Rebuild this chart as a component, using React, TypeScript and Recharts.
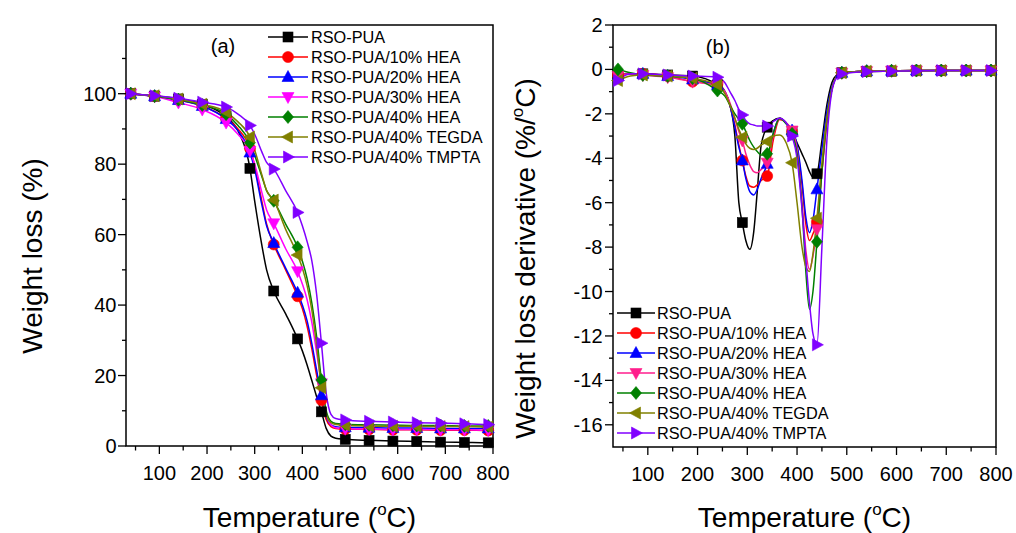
import React from 'react';
import { LineChart, Line, XAxis, YAxis, ReferenceArea, Legend, Label } from 'recharts';

const FONT = "Arial, 'Liberation Sans', Helvetica, sans-serif";

const SERIES_NAMES = [
  'RSO-PUA',
  'RSO-PUA/10% HEA',
  'RSO-PUA/20% HEA',
  'RSO-PUA/30% HEA',
  'RSO-PUA/40% HEA',
  'RSO-PUA/40% TEGDA',
  'RSO-PUA/40% TMPTA',
];
const SHAPES = ['square', 'circle', 'up', 'down', 'diamond', 'left', 'right'];
const COLORS_A = ['#000000', '#FF0000', '#0000FF', '#FF00FF', '#008000', '#808000', '#8000FF'];
const COLORS_B = ['#000000', '#FF0000', '#0000FF', '#FF1E8C', '#008000', '#808000', '#8000FF'];

const MARKER_T = [40, 90, 140, 190, 240, 290, 340, 390, 440, 490, 540, 590, 640, 690, 740, 790];
const X_TICKS = [50, 100, 150, 200, 250, 300, 350, 400, 450, 500, 550, 600, 650, 700, 750, 800];
const TGA_Y_TICKS = [0, 10, 20, 30, 40, 50, 60, 70, 80, 90, 100, 110];
const DTG_Y_TICKS = [-16, -15, -14, -13, -12, -11, -10, -9, -8, -7, -6, -5, -4, -3, -2, -1, 0, 1, 2];

// (a) weight loss (%)
const TGA_T = [40, 90, 140, 190, 240, 265, 290, 300, 315, 325, 340, 365, 390, 400, 410, 420, 430, 440, 450, 460, 470, 490, 540, 590, 640, 690, 740, 790, 800];
const TGA_PUA = [100, 99.3, 98.5, 97, 93.5, 89.5, 78.8, 69.5, 57, 50, 44, 37.5, 30.4, 27, 23, 18.5, 14, 9.7, 5.0, 2.8, 2.2, 1.9, 1.6, 1.4, 1.3, 1.1, 1.0, 0.9, 0.9];
const TGA_HEA10 = [100, 99.3, 98.2, 96.5, 93, 90, 84.5, 79.5, 69.5, 63, 57.2, 50, 42.5, 39, 34, 27.5, 20, 13, 7.5, 5.5, 5.0, 4.8, 4.7, 4.6, 4.6, 4.5, 4.5, 4.4, 4.4];
const TGA_HEA20 = [100, 99.3, 98.2, 96.5, 92.8, 89.5, 83.3, 78.5, 68.5, 62.5, 57.6, 50.5, 43.5, 40, 35.5, 29, 21.5, 14.4, 8.5, 6.0, 5.5, 5.3, 5.2, 5.1, 5.1, 5.0, 5.0, 5.0, 5.0];
const TGA_HEA30 = [100, 99.2, 97.5, 95.5, 91.8, 88.5, 83.8, 80, 72, 67, 63.2, 56, 49.6, 46, 41.5, 35, 26.5, 17.8, 9.5, 6.0, 5.2, 4.9, 4.8, 4.7, 4.7, 4.6, 4.6, 4.5, 4.5];
const TGA_HEA40 = [100, 99.3, 98.3, 96.8, 94.2, 91, 86.1, 82.5, 76.5, 72.5, 69.6, 63, 56.4, 52.5, 47.5, 40.5, 31, 18.7, 10, 7.0, 6.4, 6.2, 6.0, 5.9, 5.8, 5.8, 5.7, 5.7, 5.7];
const TGA_TEGDA = [100, 99.4, 98.5, 97, 94.8, 92, 87.7, 84, 77, 72.5, 69.8, 61.5, 54.2, 50.5, 45.5, 38.5, 28.5, 16.5, 9.0, 6.6, 6.1, 5.9, 5.7, 5.6, 5.6, 5.5, 5.5, 5.4, 5.4];
const TGA_TMPTA = [100, 99.4, 98.7, 97.6, 96.2, 94.2, 91, 88.5, 83.5, 80.5, 78.6, 72.5, 66.3, 62.5, 58, 52.5, 43, 29.2, 15, 9.0, 7.8, 7.4, 7.0, 6.8, 6.6, 6.5, 6.3, 6.1, 6.1];

// (b) weight loss derivative (%/°C)
const DTG_T = [40, 65, 90, 140, 190, 240, 255, 265, 275, 283, 290, 297, 305, 313, 320, 328, 340, 352, 365, 378, 390, 400, 410, 418, 425, 432, 440, 450, 460, 470, 480, 490, 540, 590, 640, 690, 740, 790, 800];
const DTG_PUA = [-0.3, -0.2, -0.2, -0.25, -0.3, -0.7, -1.0, -1.6, -3.0, -6.0, -6.9, -7.7, -8.1, -7.3, -5.5, -3.4, -2.6, -2.3, -2.2, -2.4, -2.8, -3.3, -3.8, -4.2, -4.6, -4.85, -4.7, -3.2, -1.6, -0.6, -0.25, -0.15, -0.1, -0.08, -0.06, -0.05, -0.05, -0.05, -0.05];
const DTG_HEA10 = [-0.25, -0.2, -0.2, -0.3, -0.55, -0.65, -1.0, -1.6, -2.5, -3.4, -4.1, -4.8, -5.25, -5.3, -5.2, -5.0, -4.8, -3.2, -2.25, -2.4, -2.8, -3.5, -5.2, -7.0, -7.7, -7.4, -6.86, -4.6, -2.4, -0.9, -0.3, -0.15, -0.08, -0.06, -0.05, -0.05, -0.05, -0.05, -0.05];
const DTG_HEA20 = [-0.3, -0.2, -0.2, -0.3, -0.45, -0.7, -1.0, -1.6, -2.6, -3.5, -4.1, -4.9, -5.5, -5.65, -5.4, -4.9, -4.25, -2.9, -2.2, -2.4, -2.75, -3.4, -5.0, -6.7, -7.35, -6.8, -5.4, -3.6, -1.9, -0.8, -0.3, -0.15, -0.08, -0.06, -0.05, -0.05, -0.05, -0.05, -0.05];
const DTG_HEA30 = [-0.3, -0.2, -0.25, -0.35, -0.55, -0.75, -1.0, -1.5, -2.2, -2.8, -3.2, -3.8, -4.3, -4.6, -4.65, -4.5, -4.2, -3.0, -2.2, -2.4, -2.75, -3.6, -6.0, -8.2, -9.0, -8.4, -7.2, -4.6, -2.3, -0.9, -0.3, -0.15, -0.08, -0.06, -0.05, -0.05, -0.05, -0.05, -0.05];
const DTG_HEA40 = [0.0, -0.15, -0.25, -0.3, -0.4, -0.95, -1.2, -1.6, -2.0, -2.25, -2.45, -2.8, -3.2, -3.5, -3.7, -3.85, -3.8, -2.9, -2.2, -2.45, -2.9, -3.8, -6.2, -9.2, -10.8, -10.0, -7.76, -4.6, -2.3, -0.9, -0.3, -0.15, -0.08, -0.06, -0.05, -0.05, -0.05, -0.05, -0.05];
const DTG_TEGDA = [-0.5, -0.3, -0.25, -0.3, -0.4, -0.7, -1.1, -1.6, -2.2, -2.7, -3.05, -3.35, -3.55, -3.6, -3.55, -3.4, -3.25, -3.0, -2.95, -3.3, -4.2, -6.0, -8.0, -8.9, -9.1, -8.3, -6.7, -4.2, -2.2, -0.9, -0.3, -0.15, -0.08, -0.06, -0.05, -0.05, -0.05, -0.05, -0.05];
const DTG_TMPTA = [-0.5, -0.2, -0.2, -0.25, -0.3, -0.35, -0.6, -1.0, -1.4, -1.8, -2.05, -2.3, -2.45, -2.5, -2.55, -2.55, -2.55, -2.35, -2.2, -2.4, -3.0, -4.0, -6.3, -8.6, -10.5, -11.9, -12.4, -8.0, -3.2, -1.0, -0.35, -0.2, -0.1, -0.08, -0.06, -0.05, -0.05, -0.05, -0.05];

const TGA_SERIES = [TGA_PUA, TGA_HEA10, TGA_HEA20, TGA_HEA30, TGA_HEA40, TGA_TEGDA, TGA_TMPTA];
const DTG_SERIES = [DTG_PUA, DTG_HEA10, DTG_HEA20, DTG_HEA30, DTG_HEA40, DTG_TEGDA, DTG_TMPTA];

const buildRows = (temps: number[], series: number[][]) =>
  temps.map((t, i) => {
    const row: Record<string, number> = { T: t };
    series.forEach((s, k) => {
      row['s' + k] = s[i];
    });
    return row;
  });

const tgaData = buildRows(TGA_T, TGA_SERIES);
const dtgData = buildRows(DTG_T, DTG_SERIES);
const MARKER_SET = new Set(MARKER_T);

function MarkerShape({ cx, cy, shape, color }: { cx: number; cy: number; shape: string; color: string }) {
  const common = { fill: color, stroke: color, strokeWidth: 0.6 };
  switch (shape) {
    case 'square':
      return <rect x={cx - 5} y={cy - 5} width={10} height={10} {...common} />;
    case 'circle':
      return <circle cx={cx} cy={cy} r={5.5} {...common} />;
    case 'up':
      return <polygon points={`${cx},${cy - 6.5} ${cx + 6},${cy + 4.5} ${cx - 6},${cy + 4.5}`} {...common} />;
    case 'down':
      return <polygon points={`${cx},${cy + 6.5} ${cx + 6},${cy - 4.5} ${cx - 6},${cy - 4.5}`} {...common} />;
    case 'diamond':
      return <polygon points={`${cx},${cy - 6.5} ${cx + 5.5},${cy} ${cx},${cy + 6.5} ${cx - 5.5},${cy}`} {...common} />;
    case 'left':
      return <polygon points={`${cx - 6.5},${cy} ${cx + 4.5},${cy - 6} ${cx + 4.5},${cy + 6}`} {...common} />;
    default:
      return <polygon points={`${cx + 6.5},${cy} ${cx - 4.5},${cy - 6} ${cx - 4.5},${cy + 6}`} {...common} />;
  }
}

const makeDot = (shape: string, color: string) => (props: any) => {
  const { cx, cy, payload, index } = props;
  if (cx == null || cy == null || !payload || !MARKER_SET.has(payload.T)) {
    return <g key={'n' + index} />;
  }
  return (
    <g key={'m' + index}>
      <MarkerShape cx={cx} cy={cy} shape={shape} color={color} />
    </g>
  );
};

const XTick = (props: any) => {
  const { x, y, payload } = props;
  const v = payload.value;
  const major = v % 100 === 0;
  return (
    <g>
      <line x1={x} x2={x} y1={y} y2={y + (major ? 8 : 4.5)} stroke="#000" strokeWidth={1.3} />
      {major && (
        <text x={x} y={y + 33.5} textAnchor="middle" fontSize={20} fontFamily={FONT} fill="#000">
          {v}
        </text>
      )}
    </g>
  );
};

const makeYTick = (majorStep: number, labelDx: number) => (props: any) => {
  const { x, y, payload } = props;
  const v = payload.value;
  const major = Math.abs(Math.round(v / majorStep) * majorStep - v) < 1e-6;
  return (
    <g>
      <line x1={x} x2={x - (major ? 8 : 4)} y1={y} y2={y} stroke="#000" strokeWidth={1.3} />
      {major && (
        <text x={x - labelDx} y={y + 7} textAnchor="end" fontSize={20} fontFamily={FONT} fill="#000">
          {v}
        </text>
      )}
    </g>
  );
};

const TempTitle = ({ cx }: { cx: number }) => (
  <text x={cx} y={527} textAnchor="middle" fontSize={28} fontFamily={FONT} fill="#000">
    Temperature (
    <tspan dy={-12} fontSize={17}>o</tspan>
    <tspan dy={12}>C)</tspan>
  </text>
);

const makeLegend = (colors: string[], lineLen: number, textX: number) => () => (
  <svg width={250} height={150} style={{ overflow: 'visible', display: 'block' }}>
    {SERIES_NAMES.map((name, i) => {
      const y = 10 + 20 * i;
      return (
        <g key={name}>
          <line x1={2} x2={2 + lineLen} y1={y} y2={y} stroke={colors[i]} strokeWidth={1.5} />
          <MarkerShape cx={2 + lineLen / 2} cy={y} shape={SHAPES[i]} color={colors[i]} />
          <text x={textX} y={y + 6} fontSize={16.3} fontFamily={FONT} fill="#000">
            {name}
          </text>
        </g>
      );
    })}
  </svg>
);

export default function App() {
  return (
    <div style={{ position: 'absolute', left: 0, top: 0, width: 1016, height: 533, background: '#fff', overflow: 'hidden' }}>
      <div style={{ position: 'absolute', left: 0, top: 0 }}>
        <LineChart width={530} height={533} data={tgaData} margin={{ top: 25, right: 37, bottom: 27, left: 0 }}>
          <XAxis
            dataKey="T"
            type="number"
            domain={[30, 800]}
            ticks={X_TICKS}
            interval={0}
            height={60}
            tickSize={0}
            tickMargin={0}
            axisLine={false}
            tickLine={false}
            tick={XTick}
          >
            <Label content={() => <TempTitle cx={309.5} />} />
            <Label
              content={() => (
                <text x={223} y={53} textAnchor="middle" fontSize={20} fontFamily={FONT} fill="#000">
                  (a)
                </text>
              )}
            />
          </XAxis>
          <YAxis
            type="number"
            domain={[0, 119.5]}
            ticks={TGA_Y_TICKS}
            interval={0}
            width={126}
            tickSize={0}
            tickMargin={0}
            axisLine={false}
            tickLine={false}
            tick={makeYTick(20, 9.5)}
          >
            <Label
              content={() => (
                <text
                  x={41.5}
                  y={256}
                  transform="rotate(-90 41.5 256)"
                  textAnchor="middle"
                  fontSize={28}
                  fontFamily={FONT}
                  fill="#000"
                >
                  Weight loss (%)
                </text>
              )}
            />
          </YAxis>
          <ReferenceArea x1={30} x2={800} y1={0} y2={119.5} fill="none" stroke="#000" strokeWidth={1.5} />
          {SERIES_NAMES.map((name, k) => (
            <Line
              key={name}
              name={name}
              dataKey={'s' + k}
              type="monotone"
              stroke={COLORS_A[k]}
              strokeWidth={1.5}
              dot={makeDot(SHAPES[k], COLORS_A[k])}
              activeDot={false}
              isAnimationActive={false}
            />
          ))}
          <Legend
            layout="vertical"
            align="center"
            verticalAlign="middle"
            content={makeLegend(COLORS_A, 40, 45)}
            wrapperStyle={{ left: 266, top: 27.3, width: 250, height: 150 }}
          />
        </LineChart>
      </div>
      <div style={{ position: 'absolute', left: 508, top: 0 }}>
        <LineChart width={508} height={533} data={dtgData} margin={{ top: 25, right: 20, bottom: 26, left: 0 }}>
          <XAxis
            dataKey="T"
            type="number"
            domain={[30, 800]}
            ticks={X_TICKS}
            interval={0}
            height={60}
            tickSize={0}
            tickMargin={0}
            axisLine={false}
            tickLine={false}
            tick={XTick}
          >
            <Label content={() => <TempTitle cx={296.5} />} />
            <Label
              content={() => (
                <text x={210} y={54} textAnchor="middle" fontSize={20} fontFamily={FONT} fill="#000">
                  (b)
                </text>
              )}
            />
          </XAxis>
          <YAxis
            type="number"
            domain={[-17, 2]}
            ticks={DTG_Y_TICKS}
            interval={0}
            width={105}
            tickSize={0}
            tickMargin={0}
            axisLine={false}
            tickLine={false}
            tick={makeYTick(2, 10.5)}
          >
            <Label
              content={() => (
                <text
                  x={27}
                  y={258.5}
                  transform="rotate(-90 27 258.5)"
                  textAnchor="middle"
                  fontSize={28}
                  fontFamily={FONT}
                  fill="#000"
                >
                  Weight loss derivative (%/
                  <tspan dy={-12} fontSize={17}>o</tspan>
                  <tspan dy={12}>C)</tspan>
                </text>
              )}
            />
          </YAxis>
          <ReferenceArea x1={30} x2={800} y1={-17} y2={2} fill="none" stroke="#000" strokeWidth={1.5} />
          {SERIES_NAMES.map((name, k) => (
            <Line
              key={name}
              name={name}
              dataKey={'s' + k}
              type="monotone"
              stroke={COLORS_B[k]}
              strokeWidth={1.5}
              dot={makeDot(SHAPES[k], COLORS_B[k])}
              activeDot={false}
              isAnimationActive={false}
            />
          ))}
          <Legend
            layout="vertical"
            align="center"
            verticalAlign="middle"
            content={makeLegend(COLORS_B, 38, 42)}
            wrapperStyle={{ left: 107, top: 302.7, width: 250, height: 150 }}
          />
        </LineChart>
      </div>
    </div>
  );
}
